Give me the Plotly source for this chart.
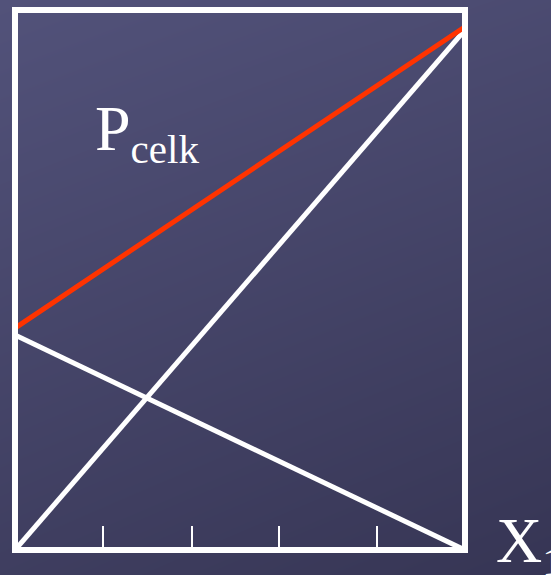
import plotly.graph_objects as go

# ---- data ----
line_x = [0, 5]
p_celk = [4.11, 9.69]        # red total line
rising = [0.0, 9.63]         # white rising line
falling = [3.98, 0.0]        # white falling line
tick_positions = [0.978, 1.967, 2.933, 4.022]
label_p = "P<sub><span style='font-size:41px'>celk</span></sub>"
label_x = "X<sub><span style='font-size:41px'>1</span></sub>"

# background gradient values
bg_z = [[0.30, 0.0], [1.0, 0.75]]

W, H = 551, 575
L, R, T, B = 15, 465, 10, 550

fig = go.Figure()

# background gradient on full-page subplot
fig.add_trace(go.Heatmap(
    z=bg_z, x=[0, 1], y=[0, 1], zsmooth="best", showscale=False,
    colorscale=[[0, "#363554"], [1, "#52527a"]], hoverinfo="skip",
    xaxis="x", yaxis="y",
))

common = dict(xaxis="x2", yaxis="y2", mode="lines", hoverinfo="skip", showlegend=False)
fig.add_trace(go.Scatter(x=line_x, y=rising, line=dict(color="white", width=5), **common))
fig.add_trace(go.Scatter(x=line_x, y=falling, line=dict(color="white", width=5), **common))
fig.add_trace(go.Scatter(x=line_x, y=p_celk, line=dict(color="#ff3300", width=5), **common))

fig.add_shape(type="rect", xref="x2 domain", yref="y2 domain", x0=0, x1=1, y0=0, y1=1,
              line=dict(color="white", width=6), layer="above")

font = dict(family="Liberation Serif", size=64, color="white")
fig.add_annotation(text=label_p, xref="paper", yref="paper", x=93 / W, y=(H - 91) / H,
                   xanchor="left", yanchor="top", showarrow=False, font=font)
fig.add_annotation(text=label_x, xref="paper", yref="paper", x=494 / W, y=(H - 503) / H,
                   xanchor="left", yanchor="top", showarrow=False, font=font)

hidden = dict(visible=False, fixedrange=True)
fig.update_layout(
    width=W, height=H,
    margin=dict(l=0, r=0, t=0, b=0),
    paper_bgcolor="#45446a",
    plot_bgcolor="rgba(0,0,0,0)",
    showlegend=False,
    xaxis=dict(domain=[0, 1], range=[0, 1], **hidden),
    yaxis=dict(domain=[0, 1], range=[0, 1], **hidden),
    xaxis2=dict(domain=[L / W, R / W], range=[0, 5], anchor="y2",
                showgrid=False, zeroline=False, showline=False,
                ticks="inside", ticklen=24, tickwidth=2, tickcolor="white",
                tickvals=tick_positions, showticklabels=False, fixedrange=True),
    yaxis2=dict(domain=[(H - B) / H, (H - T) / H], range=[0, 10], anchor="x2",
                showgrid=False, zeroline=False, showline=False, showticklabels=False,
                ticks="", fixedrange=True),
)

fig.write_html("out.html", config={"displayModeBar": False},
               post_script="document.body.style.margin='0';document.body.style.background='#45446a';")
